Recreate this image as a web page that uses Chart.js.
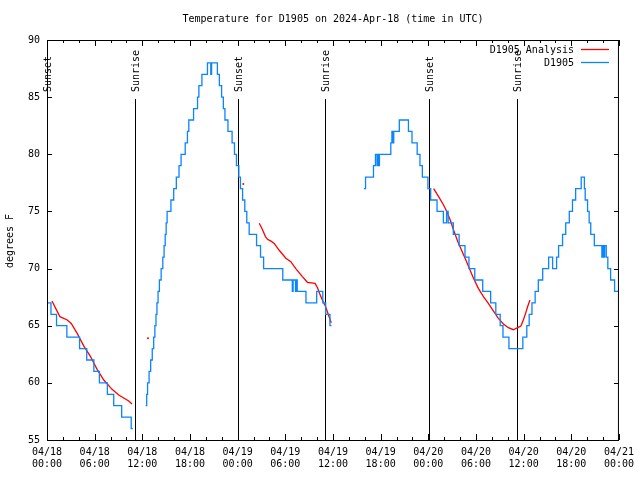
<!DOCTYPE html>
<html>
<head>
<meta charset="utf-8">
<script src="https://cdn.jsdelivr.net/npm/chart.js@4/dist/chart.umd.min.js"></script>
<style>
html,body{margin:0;padding:0;background:#fff;}
#wrap{width:640px;height:480px;}
</style>
</head>
<body>
<div id="wrap"><canvas id="c" width="640" height="480"></canvas></div>
<script>
// ---- data (hours since 04/18 00:00 UTC, degrees F) ----
const tickDates = ['04/18','04/18','04/18','04/18','04/19','04/19','04/19','04/19','04/20','04/20','04/20','04/20','04/21'];
const tickTimes = ['00:00','06:00','12:00','18:00','00:00','06:00','12:00','18:00','00:00','06:00','12:00','18:00','00:00'];

const sunHours  = [0.03, 11.06, 24.08, 35.04, 48.08, 59.12];
const sunLabels = ['Sunset','Sunrise','Sunset','Sunrise','Sunset','Sunrise'];

// observed D1905 (value holds from given hour)
const obs1Hours = [0.02,0.5,1.2,2.5,4.1,5.0,5.9,6.6,7.6,8.4,9.4,10.6,10.8];
const obs1Temps = [67,66,65,64,63,62,61,60,59,58,57,56,56];

const obs2Hours = [12.42,12.55,12.66,12.85,13.05,13.25,13.43,13.58,13.72,13.84,13.98,14.15,14.37,14.58,14.74,14.88,15.0,15.12,15.6,15.95,16.28,16.62,16.88,17.4,17.68,17.85,18.45,18.95,19.12,19.5,20.2,20.62,20.72,21.45,21.7,21.98,22.2,22.4,22.78,23.3,23.6,23.85,24.15,24.35,24.62,24.9,25.15,25.45,26.38,26.88,27.27,29.68,30.88,30.98,31.28,31.36,31.5,32.6,33.95,34.72,35.08,35.62,35.8];
const obs2Temps = [58,59,60,61,62,63,64,65,66,67,68,69,70,71,72,73,74,75,76,77,78,79,80,81,82,83,84,85,86,87,88,87,88,87,86,85,84,83,82,81,80,79,78,77,76,75,74,73,72,71,70,69,68,69,68,69,68,67,68,67,66,65,65];

const obs3Hours = [39.89,40.1,41.1,41.35,41.55,41.62,41.78,41.85,43.28,43.42,43.55,43.65,44.35,45.5,45.95,46.6,46.95,47.25,47.95,48.3,49.1,49.9,50.3,50.5,51.15,51.88,52.62,53.12,53.85,54.85,55.85,56.5,57.05,57.4,58.15,59.9,60.4,60.7,61.05,61.45,61.85,62.4,63.15,63.65,64.15,64.4,64.9,65.3,65.75,66.15,66.55,67.25,67.65,67.75,68.05,68.25,68.45,68.9,69.85,69.95,70.1,70.2,70.4,70.6,70.95,71.45,71.9];
const obs3Temps = [77,78,79,80,79,80,79,80,81,82,81,82,83,82,81,80,79,78,77,76,75,74,75,74,73,72,71,70,69,68,67,66,65,64,63,64,65,66,67,68,69,70,71,70,71,72,73,74,75,76,77,78,77,76,75,74,73,72,71,72,71,72,71,70,69,68,68];

// D1905 Analysis
const ana1Hours = [0.63,1.3,1.63,2.55,3.05,3.8,4.64,5.48,6.31,7.15,8.19,9.03,10.29,10.7];
const ana1Temps = [67.16,66.23,65.79,65.5,65.2,64.33,63.22,62.29,61.18,60.25,59.43,58.94,58.41,58.15];
const anaDotHours = [12.71, 24.71];
const anaDotTemps = [63.9, 77.4];
const ana2Hours = [26.72,27.13,27.5,27.76,28.2,28.6,29.23,30.07,30.69,31.32,32.15,32.78,33.74,34.04,34.33,34.66,35.08,35.5,35.79];
const ana2Temps = [73.96,73.4,72.8,72.56,72.4,72.2,71.6,70.9,70.6,70.0,69.3,68.8,68.7,68.35,67.8,67.25,66.66,65.8,65.26];
const ana3Hours = [48.67,49.3,49.92,50.34,50.76,51.18,51.72,52.7,53.69,54.3,54.94,55.56,56.19,56.82,57.45,58.08,58.7,59.25,59.66,59.96,60.25,60.5,60.8];
const ana3Temps = [77.0,76.3,75.56,74.97,74.25,73.37,72.35,70.8,69.15,68.27,67.54,66.96,66.29,65.64,65.15,64.83,64.65,64.83,64.97,65.5,66.08,66.66,67.25];

const titleText = 'Temperature for D1905 on 2024-Apr-18 (time in UTC)';
const yTitle = 'degrees F';
const legendNames = ['D1905 Analysis','D1905'];

// ---- styling ----
const RED = '#ff0000';
const BLUE = '#0a84ff';
const FONT = '"DejaVu Sans Mono", "Liberation Mono", monospace';
Chart.defaults.font.family = FONT;
Chart.defaults.font.size = 10;
Chart.defaults.color = '#000';

const xy = (h, v) => h.map((t, i) => ({x: t, y: v[i]}));

const blueDs = (h, v) => ({data: xy(h, v), borderColor: BLUE, borderWidth: 1.3, pointRadius: 0, stepped: true, order: 0, fill: false});
const redDs = (h, v) => ({data: xy(h, v), borderColor: RED, borderWidth: 1.3, pointRadius: 0, order: 1, fill: false});

const decor = {
  id: 'decor',
  beforeDatasetsDraw(chart) {
    const {ctx, chartArea: a, scales: {x}} = chart;
    ctx.save();
    ctx.strokeStyle = '#000';
    ctx.lineWidth = 1;
    ctx.fillStyle = '#000';
    ctx.font = '10px ' + FONT;
    sunHours.forEach((t, i) => {
      const px = Math.round(x.getPixelForValue(t)) + 0.5;
      ctx.beginPath();
      ctx.moveTo(px, a.bottom);
      ctx.lineTo(px, a.top + 59);
      ctx.stroke();
      ctx.save();
      ctx.translate(px + 1, a.top + 52);
      ctx.rotate(-Math.PI / 2);
      ctx.textAlign = 'left';
      ctx.textBaseline = 'middle';
      ctx.fillText(sunLabels[i], 0, 0);
      ctx.restore();
    });
    ctx.restore();
  },
  afterDraw(chart) {
    const {ctx, chartArea: a, scales: {x, y}} = chart;
    ctx.save();
    ctx.strokeStyle = '#000';
    ctx.lineWidth = 1;
    // frame
    ctx.strokeRect(a.left + 0.5, a.top + 0.5, a.right - a.left - 1, a.bottom - a.top);
    // x ticks (every 2 h, major every 6 h), bottom and top, inward
    ctx.beginPath();
    for (let h = 0; h <= 72; h += 2) {
      const px = Math.round(x.getPixelForValue(h)) + 0.5;
      const len = (h % 6 === 0) ? 6 : 3;
      ctx.moveTo(px, a.bottom); ctx.lineTo(px, a.bottom - len);
      ctx.moveTo(px, a.top); ctx.lineTo(px, a.top + len);
    }
    for (let v = 55; v <= 90; v += 5) {
      const py = Math.round(y.getPixelForValue(v)) + 0.5;
      ctx.moveTo(a.left, py); ctx.lineTo(a.left + 5, py);
      ctx.moveTo(a.right, py); ctx.lineTo(a.right - 5, py);
    }
    ctx.stroke();
    // title
    ctx.fillStyle = '#000';
    ctx.font = '10px ' + FONT;
    ctx.textAlign = 'center';
    ctx.textBaseline = 'middle';
    ctx.fillText(titleText, 333, 19);
    // y title
    ctx.save();
    ctx.translate(10, 241);
    ctx.rotate(-Math.PI / 2);
    ctx.fillText(yTitle, 0, 0);
    ctx.restore();
    // legend
    const colors = [RED, BLUE];
    legendNames.forEach((n, i) => {
      const ly = 50 + i * 13;
      ctx.textAlign = 'right';
      ctx.fillStyle = '#000';
      ctx.fillText(n, 574, ly);
      ctx.strokeStyle = colors[i];
      ctx.lineWidth = 1.3;
      ctx.beginPath();
      ctx.moveTo(581, ly - 0.5); ctx.lineTo(609, ly - 0.5);
      ctx.stroke();
    });
    ctx.restore();
  }
};

new Chart(document.getElementById('c'), {
  type: 'line',
  data: {
    datasets: [
      blueDs(obs1Hours, obs1Temps),
      blueDs(obs2Hours, obs2Temps),
      blueDs(obs3Hours, obs3Temps),
      redDs(ana1Hours, ana1Temps),
      redDs(ana2Hours, ana2Temps),
      redDs(ana3Hours, ana3Temps),
      {data: xy(anaDotHours, anaDotTemps), showLine: false, pointRadius: 1, pointBorderWidth: 0, pointBackgroundColor: RED, borderColor: RED, order: 1}
    ]
  },
  options: {
    responsive: false,
    animation: false,
    layout: {padding: {top: 40, right: 19, left: 0, bottom: 0}},
    plugins: {legend: {display: false}, title: {display: false}, tooltip: {enabled: false}},
    scales: {
      x: {
        type: 'linear', min: 0, max: 72,
        grid: {display: false, drawTicks: false},
        border: {display: false},
        ticks: {stepSize: 6, autoSkip: false, maxRotation: 0, padding: 6,
          callback: (v) => [tickDates[Math.round(v / 6)], tickTimes[Math.round(v / 6)]]},
        afterFit: (s) => { s.height = 40; }
      },
      y: {
        min: 55, max: 90,
        grid: {display: false, drawTicks: false},
        border: {display: false},
        ticks: {stepSize: 5, padding: 7},
        afterFit: (s) => { s.width = 47; }
      }
    }
  },
  plugins: [decor]
});
</script>
</body>
</html>
